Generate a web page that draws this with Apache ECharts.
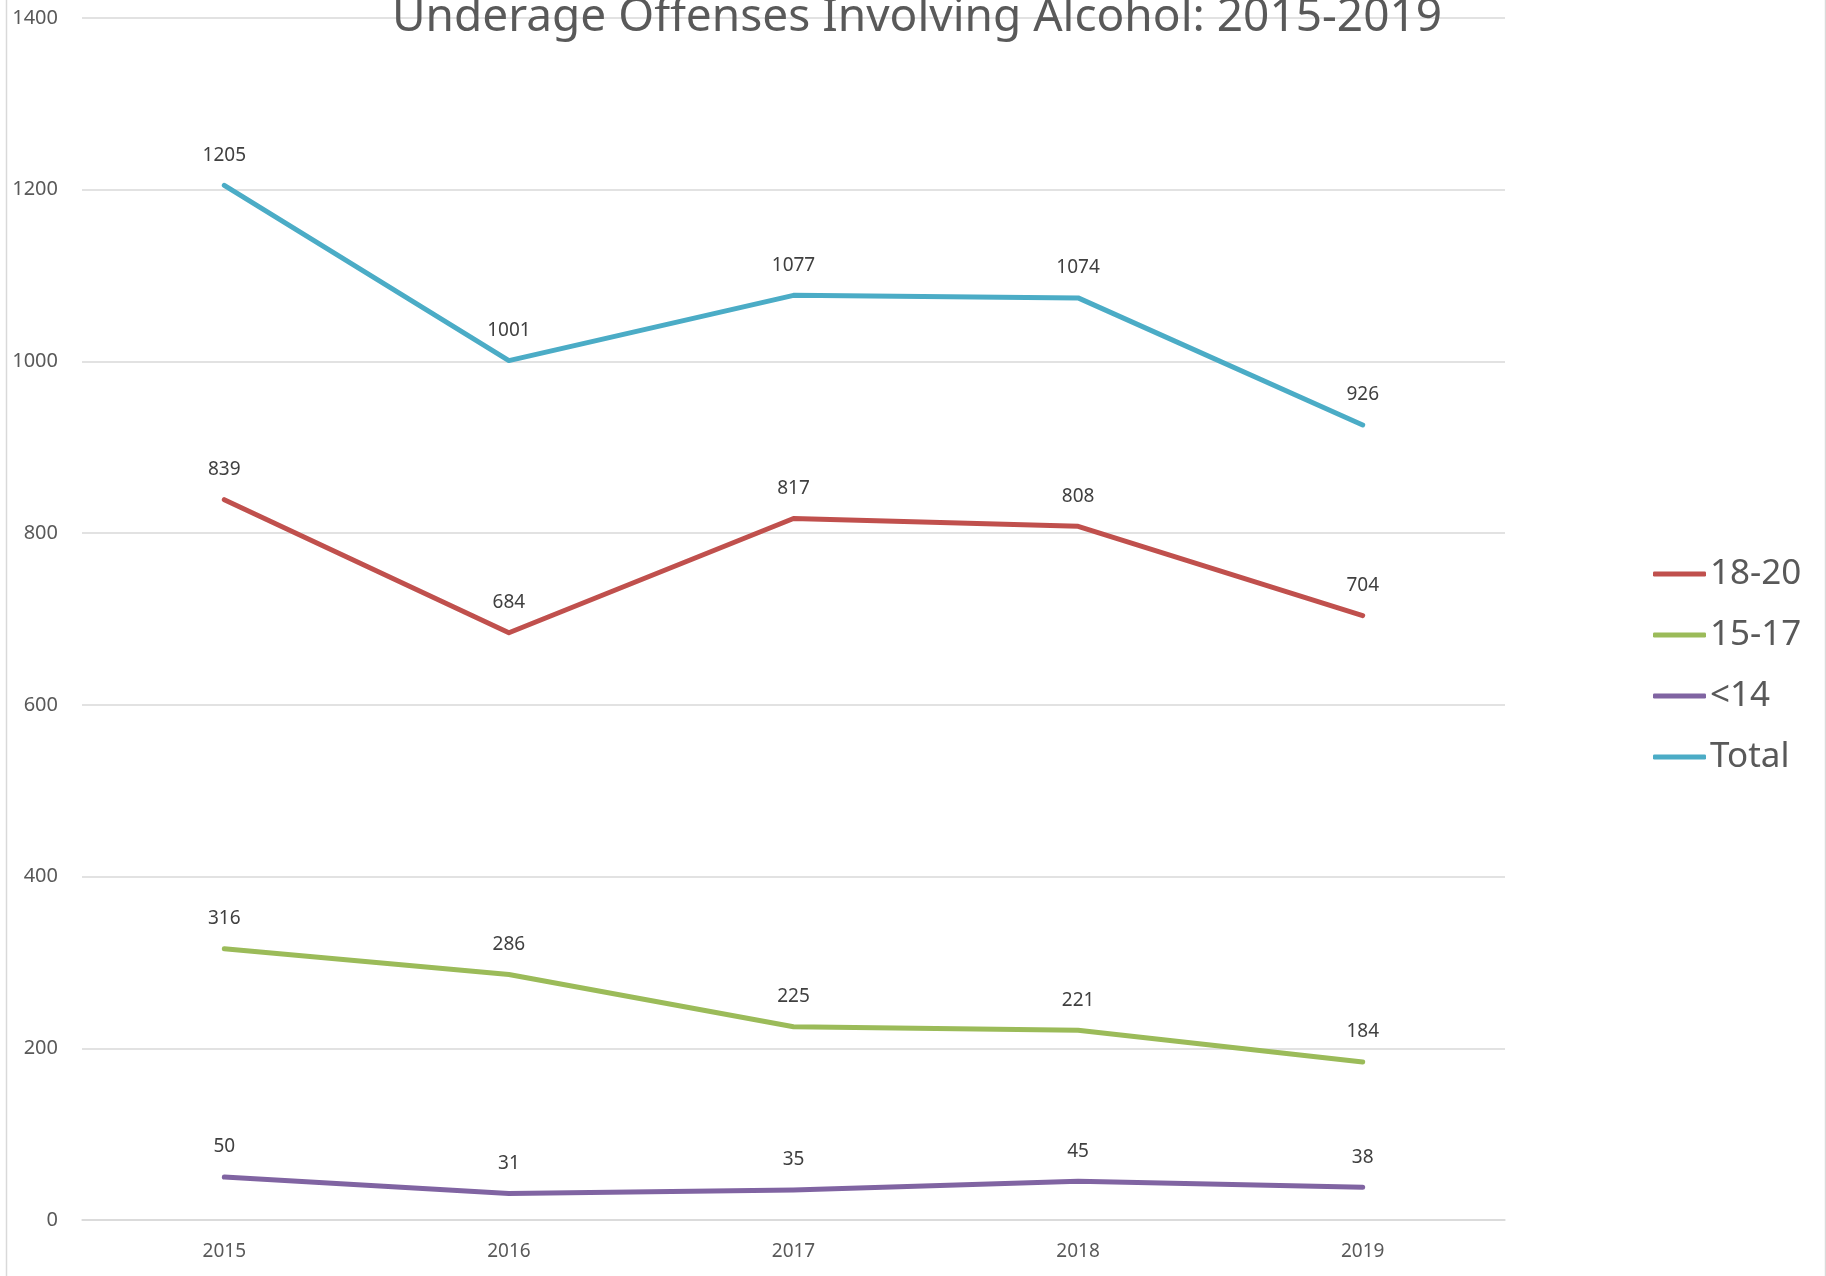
<!DOCTYPE html>
<html><head><meta charset="utf-8">
<script src="https://cdn.jsdelivr.net/npm/echarts@6/dist/echarts.min.js"></script>
<style>html,body{margin:0;padding:0;background:#fff}#c{width:1826px;height:1276px}</style>
</head><body><div id="c"></div>
<script>
const years = ['2015','2016','2017','2018','2019'];
const s1820 = [839, 684, 817, 808, 704];
const s1517 = [316, 286, 225, 221, 184];
const sU14 = [50, 31, 35, 45, 38];
const sTotal = [1205, 1001, 1077, 1074, 926];
const seriesNames = ['18-20','15-17','<14','Total'];
const colors = ['#C0504D','#9BBB59','#8064A2','#4BACC6'];
const font = '"Noto Sans", "Open Sans", sans-serif';
const chart = echarts.init(document.getElementById('c'));
function mk(name, data, color){
  return {name, type:'line', data, color, symbol:'circle', symbolSize:1, showSymbol:true,
    lineStyle:{width:5, color, cap:'round', join:'round'}, itemStyle:{color},
    label:{show:true, position:'top', distance:20, color:'#404040', fontSize:19, fontFamily:font},
    emphasis:{disabled:true}, animation:false};
}
chart.setOption({
  animation:false,
  title:{text:'Underage Offenses Involving Alcohol: 2015-2019', left:912, textAlign:'center', top:-10,
    textStyle:{fontFamily:font, fontSize:46, fontWeight:'normal', color:'#595959'}},
  grid:{left:82, right:321, top:18, bottom:56, containLabel:false},
  xAxis:{type:'category', data:years, boundaryGap:true,
    axisLine:{lineStyle:{color:'#d9d9d9', width:1.5}}, axisTick:{show:false},
    axisLabel:{color:'#595959', fontSize:19, fontFamily:font, margin:22}},
  yAxis:{type:'value', min:0, max:1400, interval:200,
    axisLine:{show:false}, axisTick:{show:false},
    splitLine:{lineStyle:{color:'#d9d9d9', width:1.5}},
    axisLabel:{color:'#595959', fontSize:20, fontFamily:font, margin:24, formatter:v => String(v)}},
  legend:{orient:'vertical', left:1648, top:549, icon:'roundRect', itemWidth:53, itemHeight:5, itemGap:21,
    data:seriesNames,
    textStyle:{color:'#595959', fontSize:35, fontFamily:font, lineHeight:40, padding:[0,0,0,-1]}},
  graphic:[{type:'rect', shape:{x:6.5, y:-10, width:1819, height:1300}, style:{fill:'none', stroke:'#d9d9d9', lineWidth:1.5}, silent:true}],
  series:[mk('18-20', s1820, colors[0]), mk('15-17', s1517, colors[1]), mk('<14', sU14, colors[2]), mk('Total', sTotal, colors[3])]
});
</script></body></html>
